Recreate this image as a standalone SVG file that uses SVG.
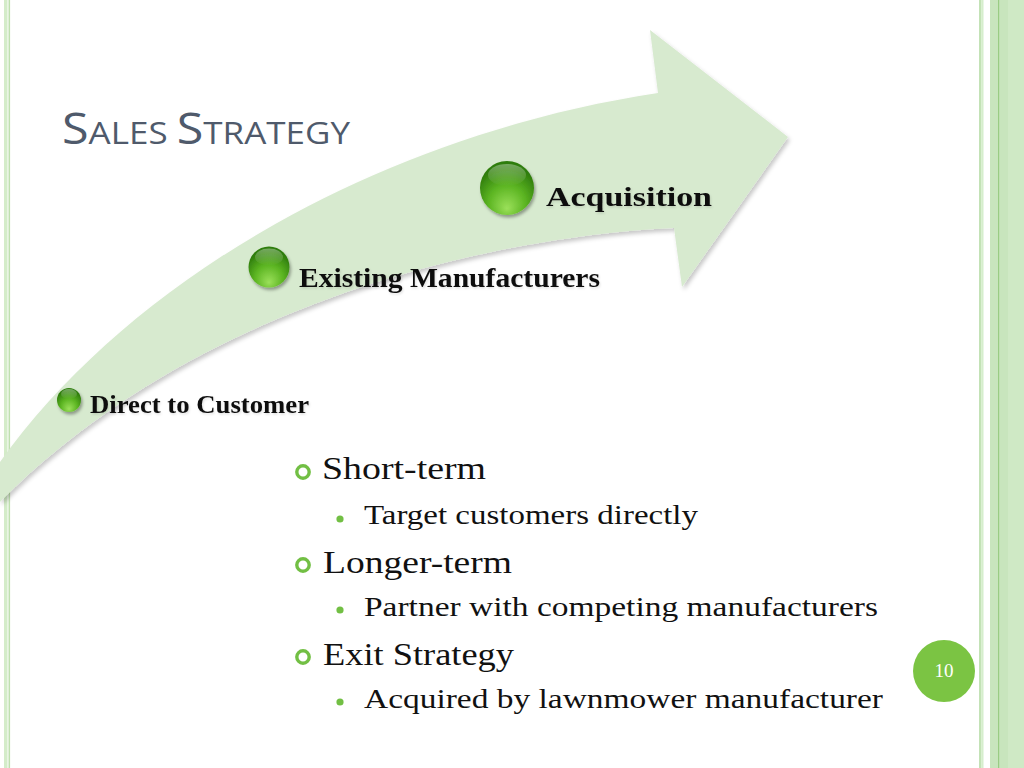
<svg xmlns="http://www.w3.org/2000/svg" width="1024" height="768" viewBox="0 0 1024 768">
  <defs>
    <style>
      .title { font-family: "Open Sans", "Liberation Sans", sans-serif; fill: #4f5a6b; }
      .lbl { font-family: "Liberation Serif", serif; font-weight: bold; fill: #111; }
      .body { font-family: "Liberation Serif", serif; fill: #111; }
      .ring { fill: none; stroke: #72bf44; stroke-width: 3.4; }
      .dot { fill: #72bf44; }
      .ball { fill: url(#ballGrad); }
      .gloss { fill: url(#glossGrad); }
    </style>
    <radialGradient id="ballGrad" cx="50%" cy="72%" r="62%" fx="50%" fy="88%">
      <stop offset="0" stop-color="#9be05a"/>
      <stop offset="0.55" stop-color="#5cb522"/>
      <stop offset="1" stop-color="#2f7d0c"/>
    </radialGradient>
    <linearGradient id="glossGrad" x1="0" y1="0" x2="0" y2="1">
      <stop offset="0" stop-color="#ffffff" stop-opacity="0.35"/>
      <stop offset="1" stop-color="#ffffff" stop-opacity="0"/>
    </linearGradient>
    <filter id="shadow" x="-10%" y="-10%" width="130%" height="130%">
      <feDropShadow dx="2" dy="3" stdDeviation="2" flood-color="#000" flood-opacity="0.22"/>
    </filter>
    <filter id="ballShadow" x="-30%" y="-30%" width="170%" height="170%">
      <feDropShadow dx="1.5" dy="2.5" stdDeviation="1.8" flood-color="#000" flood-opacity="0.35"/>
    </filter>
    <filter id="txtShadow" x="-5%" y="-20%" width="110%" height="150%">
      <feDropShadow dx="1" dy="1.5" stdDeviation="0.8" flood-color="#000" flood-opacity="0.12"/>
    </filter>
  </defs>

  <rect x="0" y="0" width="1024" height="768" fill="#ffffff"/>

  <!-- page borders -->
  <g id="borders">
    <rect x="4" y="0" width="3.5" height="768" fill="#d4ecc9"/>
    <rect x="8.5" y="0" width="1.6" height="768" fill="#bfe0b0"/>
    <rect x="979" y="0" width="2.2" height="768" fill="#c3e2b6"/>
    <rect x="981.2" y="0" width="2.3" height="768" fill="#d6eecd"/>
    <rect x="990" y="0" width="34" height="768" fill="#c8e5bd"/>
    <rect x="1008" y="0" width="16" height="768" fill="#cfe9c5"/>
    <rect x="998" y="0" width="1.2" height="768" fill="#99cc83"/>
  </g>

  <!-- title -->
  <text class="title" x="62" y="144" textLength="288" lengthAdjust="spacingAndGlyphs"><tspan font-size="43">S</tspan><tspan font-size="31">ALES </tspan><tspan font-size="43">S</tspan><tspan font-size="31">TRATEGY</tspan></text>

  <!-- curved arrow -->
  <g id="connectors">
    <path id="arrow" filter="url(#shadow)" fill="#d7eacf"
      d="M 0,462 C 130,280 380,135 658,93 L 650,30 L 788,137 L 682,287 L 674,228 C 500,236 200,300 0,502 Z"/>
  </g>

  <!-- nodes -->
  <g id="node-direct">
    <g filter="url(#ballShadow)">
      <circle class="ball" cx="69" cy="400" r="12"/>
    </g>
    <ellipse class="gloss" cx="69" cy="394" rx="8" ry="5"/>
    <text class="lbl" x="90" y="413" font-size="25" textLength="219" lengthAdjust="spacingAndGlyphs" filter="url(#txtShadow)">Direct to Customer</text>
  </g>

  <g id="node-existing">
    <g filter="url(#ballShadow)">
      <circle class="ball" cx="269" cy="267" r="20.5"/>
    </g>
    <ellipse class="gloss" cx="269" cy="257" rx="14" ry="8.5"/>
    <text class="lbl" x="299" y="287" font-size="28" textLength="301" lengthAdjust="spacingAndGlyphs" filter="url(#txtShadow)">Existing Manufacturers</text>
  </g>

  <g id="node-acquisition">
    <g filter="url(#ballShadow)">
      <circle class="ball" cx="507" cy="188" r="27"/>
    </g>
    <ellipse class="gloss" cx="507" cy="175" rx="19" ry="11"/>
    <text class="lbl" x="546" y="206" font-size="28" textLength="166" lengthAdjust="spacingAndGlyphs" filter="url(#txtShadow)">Acquisition</text>
  </g>

  <!-- bullet list -->
  <g id="bullets">
    <circle class="ring" cx="303" cy="472" r="6.2"/>
    <text class="body" x="322" y="479" font-size="31" textLength="164" lengthAdjust="spacingAndGlyphs">Short-term</text>
    <circle class="dot" cx="340" cy="519" r="3.6"/>
    <text class="body" x="364" y="524" font-size="27" textLength="334" lengthAdjust="spacingAndGlyphs">Target customers directly</text>

    <circle class="ring" cx="303" cy="565" r="6.2"/>
    <text class="body" x="323" y="573" font-size="31" textLength="189" lengthAdjust="spacingAndGlyphs">Longer-term</text>
    <circle class="dot" cx="340" cy="610" r="3.6"/>
    <text class="body" x="364" y="616" font-size="27" textLength="514" lengthAdjust="spacingAndGlyphs">Partner with competing manufacturers</text>

    <circle class="ring" cx="303" cy="657" r="6.2"/>
    <text class="body" x="323" y="665" font-size="31" textLength="191" lengthAdjust="spacingAndGlyphs">Exit Strategy</text>
    <circle class="dot" cx="340" cy="702" r="3.6"/>
    <text class="body" x="364" y="708" font-size="27" textLength="519" lengthAdjust="spacingAndGlyphs">Acquired by lawnmower manufacturer</text>
  </g>

  <!-- page number -->
  <g id="page-number">
    <circle cx="944" cy="671" r="31" fill="#7bc443"/>
    <text x="944" y="677" font-family="Liberation Serif, serif" font-size="19" fill="#ffffff" text-anchor="middle">10</text>
  </g>
</svg>
